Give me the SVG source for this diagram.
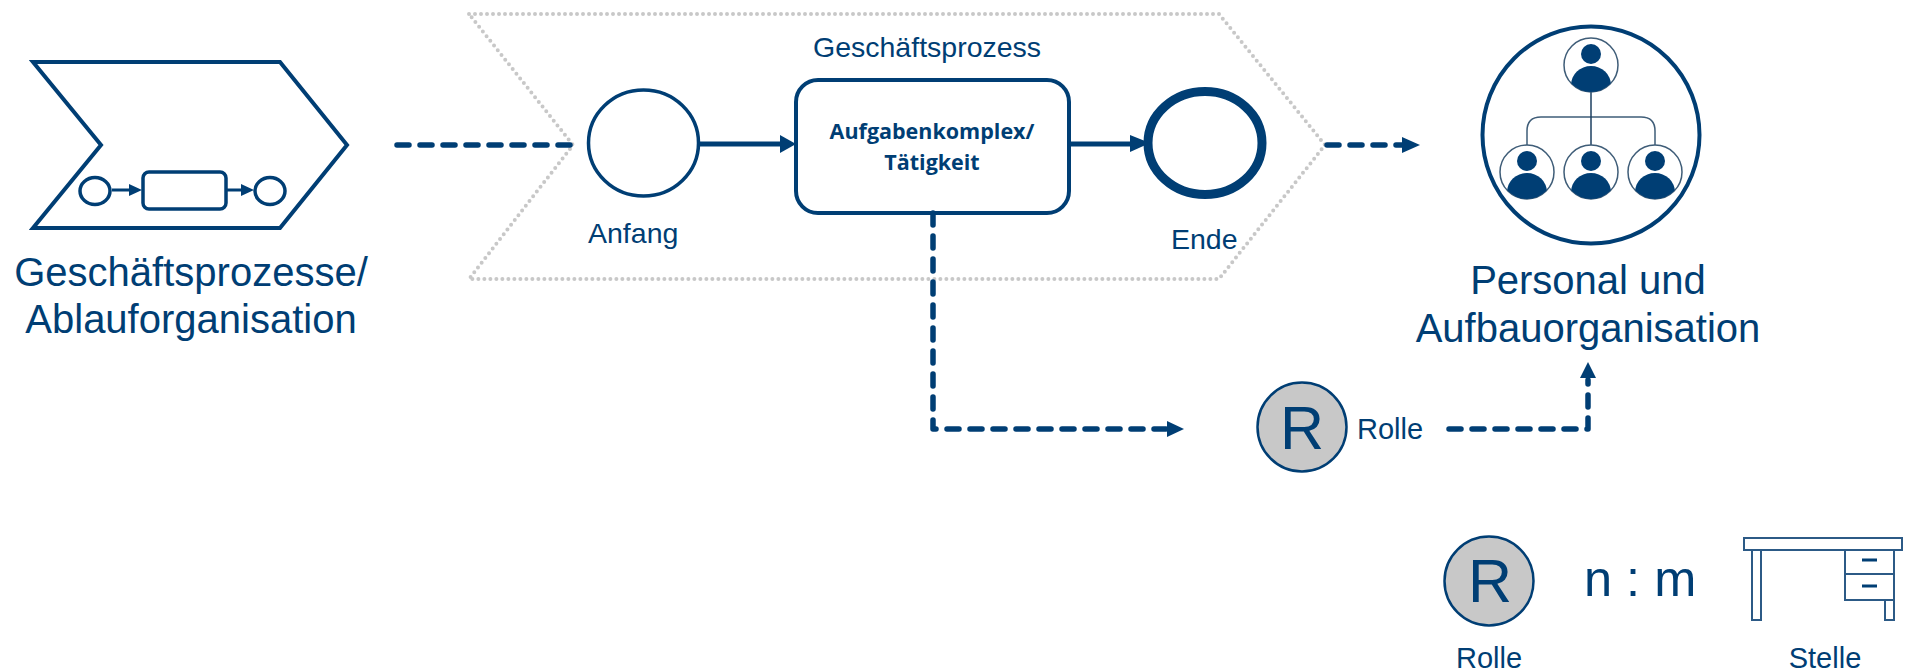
<svg xmlns="http://www.w3.org/2000/svg" width="1908" height="671" viewBox="0 0 1908 671">
<style>
text{font-family:"Liberation Sans",Arial,sans-serif;fill:#003e74}
.m{text-anchor:middle}
.b{font-size:40px}
.s{font-size:28.500px}
.l{font-size:29px}
.r{font-size:61px}
.t{font-family:"Open Sans",sans-serif;font-size:21.500px;font-weight:700;text-anchor:middle}
.sol{fill:none;stroke:#003e74;stroke-width:5}
.das{fill:none;stroke:#003e74;stroke-width:5.500;stroke-dasharray:12 11;stroke-linecap:round;stroke-linejoin:round}
.ln{fill:none;stroke:#003e74}
.th{fill:#fff;stroke:#3f5d78;stroke-width:1.5}
.pf{fill:#003e74}
.head{fill:#003e74}
</style>
<defs>
<clipPath id="cp"><circle r="27"/></clipPath>
<g id="person"><circle class="th" r="27"/><g clip-path="url(#cp)"><circle class="pf" cy="-11" r="10"/><ellipse class="pf" cy="20" rx="20" ry="19"/></g></g>
<g id="rbadge"><circle r="44.5" fill="#c8c8c8" stroke="#003e74" stroke-width="2.5"/></g>
</defs>
<g id="bp-icon">
<path class="ln" stroke-width="4" d="M33 62H280L347 145 280 228H33L101 145Z"/>
<ellipse class="ln" stroke-width="3.5" cx="95" cy="191" rx="15" ry="13.5"/>
<rect class="ln" stroke-width="3.5" x="143" y="172" width="83" height="37" rx="6"/>
<ellipse class="ln" stroke-width="3.5" cx="270" cy="191" rx="15" ry="13.5"/>
<path class="ln" stroke-width="3" d="M112 190H132M227 190H245"/>
<path class="head" d="M129 184L142 190 129 196ZM241 184L254 190 241 196Z"/>
<text class="b m" x="191" y="286">Geschäftsprozesse/</text>
<text class="b m" x="191" y="333">Ablauforganisation</text>
</g>
<g id="process-frame">
<path fill="none" stroke="#c8c8c8" stroke-width="4" stroke-dasharray="0 6" stroke-linecap="round" d="M469 14H1219L1325 145 1219 279H469L573 145Z"/>
<text class="s" x="813" y="57">Geschäftsprozess</text>
</g>
<g id="start">
<ellipse class="ln" stroke-width="3.5" cx="643.500" cy="143" rx="55" ry="53"/>
<text class="s" x="588" y="243">Anfang</text>
</g>
<g id="task">
<rect class="ln" stroke-width="4" x="796" y="80" width="273" height="133" rx="22"/>
<text class="t" x="932" y="139">Aufgabenkomplex/</text>
<text class="t" x="932" y="170">Tätigkeit</text>
</g>
<g id="end">
<ellipse class="ln" stroke-width="9" cx="1205" cy="143" rx="57" ry="51.500"/>
<text class="s" x="1171" y="249">Ende</text>
</g>
<g id="connectors">
<path class="sol" d="M699 144H784"/><path class="head" d="M780 135L796 144 780 153Z"/>
<path class="sol" d="M1069 144H1136"/><path class="head" d="M1130 135L1150 143 1130 152Z"/>
<path class="das" d="M397 145H571"/>
<path class="das" d="M1327 145H1406"/><path class="head" d="M1402 137L1420 145 1402 153Z"/>
<path class="das" d="M933 213V429H1170"/><path class="head" d="M1167 421L1184 429 1167 437Z"/>
<path class="das" d="M1449 429H1588V380"/><path class="head" d="M1580 378L1588 362 1596 378Z"/>
</g>
<g id="role">
<use href="#rbadge" x="1302" y="427"/>
<text class="m r" x="1302" y="449">R</text>
<text class="l" x="1357" y="439">Rolle</text>
</g>
<g id="org">
<circle cx="1591" cy="135" r="108.500" fill="#fff" stroke="#003e74" stroke-width="4"/>
<path fill="none" stroke="#3f5d78" stroke-width="1.500" d="M1527 145V131Q1527 117 1541 117H1641Q1655 117 1655 131V145"/>
<path fill="none" stroke="#1d3f60" stroke-width="1.500" d="M1591 92V145"/>
<use href="#person" x="1591" y="65"/>
<use href="#person" x="1527" y="172"/>
<use href="#person" x="1591" y="172"/>
<use href="#person" x="1655" y="172"/>
<text class="b m" x="1588" y="294">Personal und</text>
<text class="b m" x="1588" y="342">Aufbauorganisation</text>
</g>
<g id="role-legend">
<use href="#rbadge" x="1489" y="581"/>
<text class="m r" x="1490" y="602">R</text>
<text class="m l" x="1489" y="668">Rolle</text>
</g>
<g id="nm"><text x="1584" y="596" font-size="50.500">n : m</text></g>
<g id="desk">
<path fill="none" stroke="#2c5a86" stroke-width="2" d="M1744 538H1902V550H1744ZM1752 550V620H1761V550M1845 550V600H1894V550M1845 574H1894M1885 600V620H1894V600"/>
<path fill="none" stroke="#003e74" stroke-width="3" d="M1862 560H1877M1862 586H1877"/>
<text class="m l" x="1825" y="668">Stelle</text>
</g>
</svg>
